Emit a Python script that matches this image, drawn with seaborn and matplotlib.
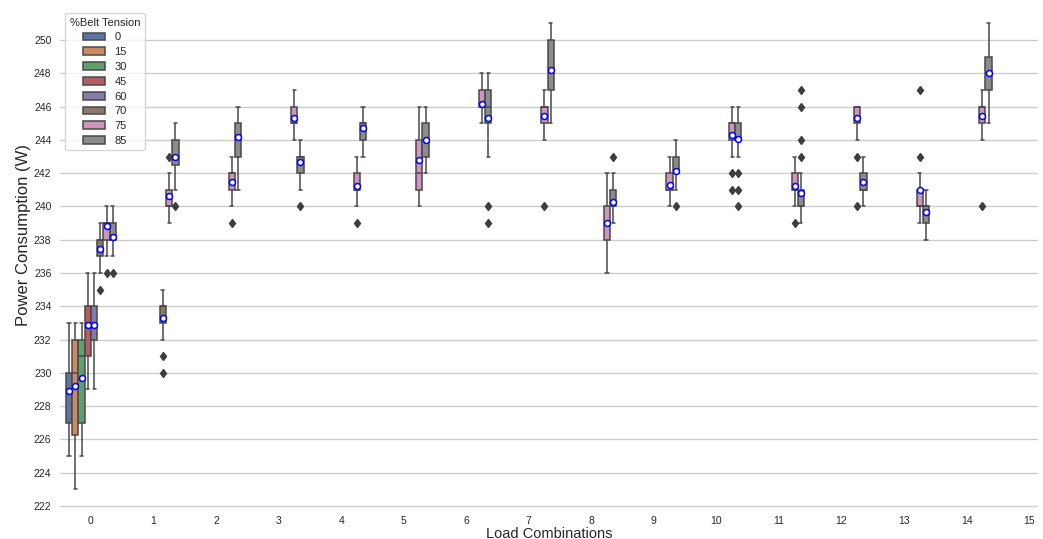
import numpy as np
import pandas as pd
import matplotlib
matplotlib.use("Agg")
import matplotlib.pyplot as plt
import seaborn as sns

t0 = {0: [225, 226, 227, 227, 228, 229, 229, 229, 230, 230, 231, 232, 233]}
t15 = {0: [223, 225, 225, 226, 227, 229, 230, 230, 232, 232, 232, 232, 233, 233]}
t30 = {0: [225, 226, 226, 227, 228, 230, 231, 231, 232, 232, 232, 233, 233]}
t45 = {0: [229, 231, 231, 231, 232, 233, 233, 233, 234, 234, 235, 235, 236]}
t60 = {0: [229, 230, 231, 232, 232, 233, 233, 233, 234, 234, 235, 235, 236]}
t70 = {
    0: [235, 236, 237, 237, 237, 237, 238, 238, 238, 238, 238, 239, 239],
    1: [230, 231, 232, 233, 233, 233, 234, 234, 234, 234, 235, 235, 235],
}
t75 = {
    0: [236, 237, 238, 238, 238, 238, 239, 239, 239, 239, 239, 239, 239, 239, 239, 239,
        240, 240, 240, 240, 240],
    1: [239, 240, 240, 240, 240, 240, 240, 241, 241, 241, 241, 242, 243],
    2: [239, 240, 241, 241, 241, 241, 242, 242, 242, 242, 242, 243, 243],
    3: [244, 244, 245, 245, 245, 245, 245, 245, 246, 246, 246, 246, 247],
    4: [239, 240, 240, 241, 241, 241, 241, 241, 242, 242, 242, 243, 243],
    5: [240, 240, 241, 241, 242, 242, 242, 244, 244, 244, 245, 245, 246],
    6: [245, 245, 245, 246, 246, 246, 246, 246, 246, 247, 247, 247, 248],
    7: [240, 244, 245, 245, 246, 246, 246, 246, 246, 246, 247, 247, 247],
    8: [236, 237, 237, 238, 238, 239, 239, 239, 240, 240, 241, 241, 242],
    9: [240, 240, 241, 241, 241, 241, 241, 241, 242, 242, 242, 242, 243],
    10: [241, 242, 243, 244, 244, 244, 245, 245, 245, 245, 246, 246, 246],
    11: [239, 240, 240, 241, 241, 241, 241, 241, 242, 242, 242, 243, 243],
    12: [240, 243, 244, 245, 245, 245, 246, 246, 246, 246, 246, 246, 246, 246, 246, 246,
         246, 246, 246, 246, 246],
    13: [239, 239, 240, 240, 240, 240, 240, 241, 241, 241, 242, 243, 247],
    14: [240, 244, 245, 245, 246, 246, 246, 246, 246, 246, 247, 247, 247],
    15: [240, 242, 244, 245, 245, 245, 246, 246, 246, 246, 246, 246, 246, 246, 246, 246,
         247, 247, 247, 247, 247],
}
t85 = {
    0: [236, 237, 238, 238, 238, 238, 238, 238, 238, 239, 239, 239, 240],
    1: [240, 241, 242, 243, 243, 243, 244, 244, 244, 244, 245],
    2: [241, 242, 243, 243, 244, 244, 244, 245, 245, 245, 246, 246, 246],
    3: [240, 241, 242, 242, 243, 243, 243, 243, 243, 243, 244, 244, 244],
    4: [243, 244, 244, 244, 244, 245, 245, 245, 245, 245, 245, 246, 246],
    5: [242, 242, 243, 243, 243, 244, 244, 244, 245, 245, 245, 246, 246],
    6: [239, 240, 243, 245, 246, 246, 246, 247, 247, 247, 247, 248, 248],
    7: [245, 246, 246, 247, 247, 248, 248, 249, 249, 250, 250, 251, 251],
    8: [239, 239, 239, 240, 240, 240, 240, 240, 240, 240, 240, 240, 240, 240, 240, 241,
        241, 241, 241, 242, 243],
    9: [240, 241, 242, 242, 242, 242, 242, 242, 242, 243, 243, 243, 244],
    10: [240, 241, 242, 243, 244, 244, 244, 244, 244, 245, 245, 245, 245, 245, 246, 246, 246],
    11: [239, 239, 240, 240, 240, 240, 240, 240, 240, 240, 240, 240, 240, 240, 240, 240,
         240, 240, 240, 240, 240, 241, 241, 241, 242, 243, 244, 246, 247],
    12: [240, 240, 241, 241, 241, 241, 241, 242, 242, 242, 242, 243, 243],
    13: [238, 239, 239, 239, 239, 240, 240, 240, 240, 240, 240, 241, 241],
    14: [245, 246, 246, 247, 247, 248, 248, 248, 249, 249, 250, 250, 251],
    15: [241, 242, 242, 242, 242, 243, 243, 243, 243, 243, 244, 245, 246],
}

tension_levels = ["0", "15", "30", "45", "60", "70", "75", "85"]
tension_data = [t0, t15, t30, t45, t60, t70, t75, t85]
load_order = list(range(16))

# Long format table for seaborn
rows = []
for level, groups in zip(tension_levels, tension_data):
    for load, vals in groups.items():
        for v in vals:
            rows.append({"Load Combinations": load, "%Belt Tension": level, "Power": v})
df = pd.DataFrame(rows)

sns.set_theme(style="whitegrid")
plt.rcParams["font.family"] = ["Liberation Sans", "DejaVu Sans"]

fig = plt.figure(figsize=(10.43, 5.39), dpi=100)
ax = fig.add_axes([0.0572, 0.0538, 0.938, 0.932])

sns.boxplot(
    data=df, x="Load Combinations", y="Power", hue="%Belt Tension",
    order=load_order, hue_order=tension_levels, palette="deep",
    showmeans=True,
    meanprops={"marker": "o", "markerfacecolor": "white", "markeredgecolor": "blue",
               "markersize": 4.3, "markeredgewidth": 1.1},
    flierprops={"marker": "d", "markerfacecolor": "#3d3d3d", "markeredgecolor": "#3d3d3d",
                "markersize": 4.5},
    linewidth=1.1, ax=ax,
)

ax.set_xlim(-0.5, 15.14)
ax.set_ylim(221.75, 251.95)
ax.set_yticks(np.arange(222, 251, 2))
ax.set_xlabel("Load Combinations", fontsize=10.5, labelpad=1)
ax.set_ylabel("Power Consumption (W)", fontsize=12)
ax.yaxis.set_label_coords(-0.029, 0.5475)
ax.tick_params(axis="both", length=0)
ax.tick_params(axis="y", labelsize=7.5, pad=6)
ax.tick_params(axis="x", labelsize=7.5, pad=4)
sns.despine(ax=ax, left=True, bottom=True)

sns.move_legend(ax, "upper left", title="%Belt Tension", fontsize=8, title_fontsize=8,
                labelspacing=0.43, frameon=True)

fig.savefig("out.png", dpi=100)
